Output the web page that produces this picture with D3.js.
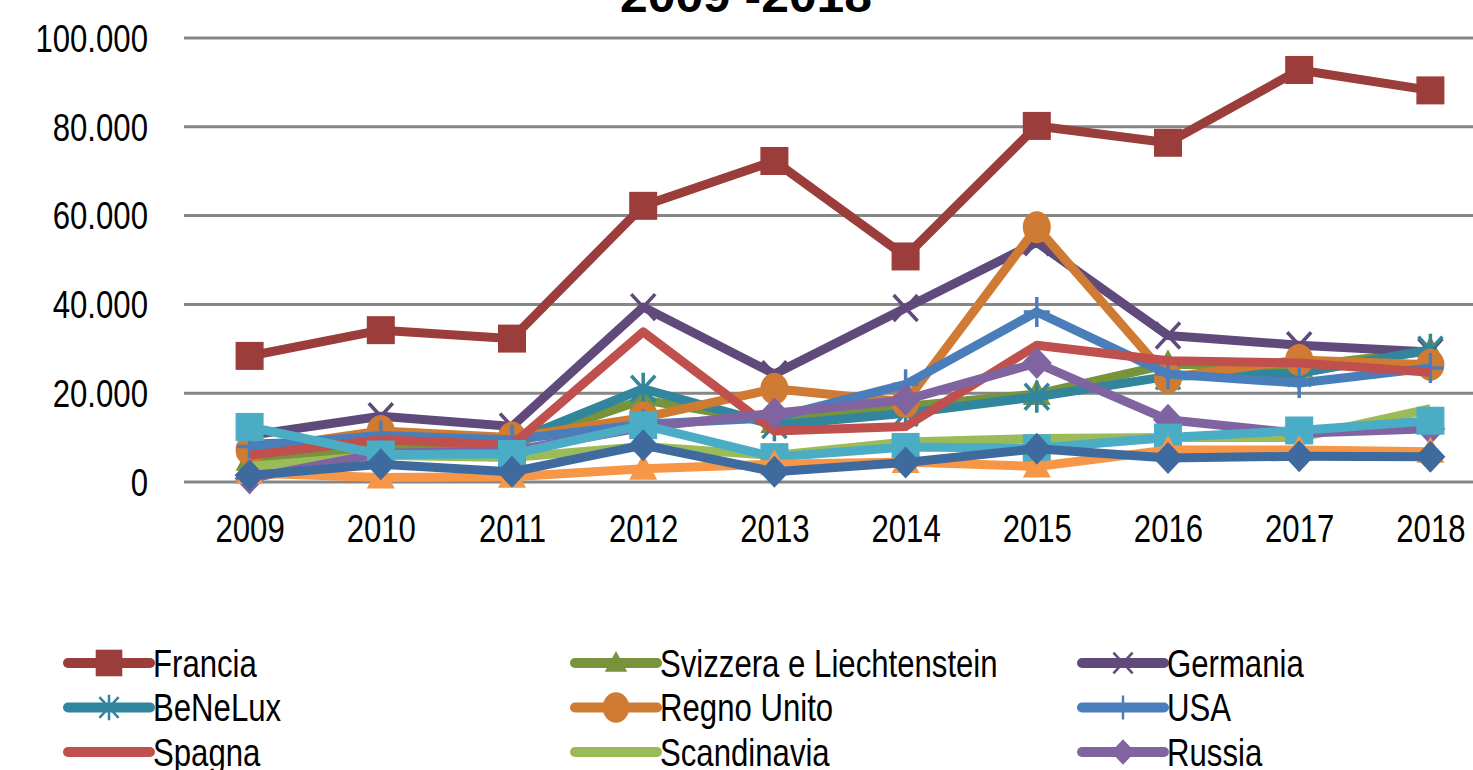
<!DOCTYPE html>
<meta charset="utf-8">
<style>
body { margin: 0; background: #fff; }
text { font-family: "Liberation Sans", Arial, sans-serif; fill: #000; }
.grid line { stroke: #868686; stroke-width: 3px; }
.series path.line { fill: none; stroke-width: 9px; stroke-linejoin: round; }
</style>
<body>
<div id="chart"></div>
<script src="https://cdn.jsdelivr.net/npm/d3@7/dist/d3.min.js"></script>
<script>

var WIDTH = 1473;
var HEIGHT = 770;
var TEXT_SQUEEZE = 0.82;

// values in number of tourists
var years = [2009, 2010, 2011, 2012, 2013, 2014, 2015, 2016, 2017, 2018];
var yTicks = [0, 20000, 40000, 60000, 80000, 100000];

var francia     = [28400, 34200, 32300, 62200, 72300, 50800, 80200, 76400, 92800, 88200];
var svizzera    = [5000, 8000, 8500, 18500, 13500, 17000, 19800, 26500, 26000, 29500];
var germania    = [10500, 14800, 12500, 39400, 24300, 39200, 54000, 33000, 30800, 29300];
var benelux     = [8500, 9500, 9000, 21000, 12800, 15500, 19200, 23800, 24500, 29800];
var regnoUnito  = [7200, 11500, 10000, 14500, 21000, 18000, 57400, 23500, 27500, 26400];
var usa         = [8000, 10500, 9500, 13000, 14500, 22000, 38300, 24300, 22300, 25700];
var spagna      = [6000, 9500, 8300, 33800, 11500, 12500, 30800, 27300, 26800, 24700];
var scandinavia = [3500, 6000, 5500, 8000, 6000, 9000, 9800, 10000, 10000, 16500];
var russia      = [800, 6500, 7000, 12300, 15500, 18500, 26800, 14000, 11000, 12000];
var austria     = [12400, 6200, 6300, 12800, 5600, 7900, 7600, 10000, 11600, 13800];
var giappone    = [2000, 1000, 1200, 3000, 4000, 4500, 3500, 7200, 7200, 6800];
var altri       = [1500, 4000, 2300, 8300, 2300, 4400, 7500, 5400, 5800, 5700];

var seriesNames = ['Francia', 'Svizzera e Liechtenstein', 'Germania',
                   'BeNeLux', 'Regno Unito', 'USA',
                   'Spagna', 'Scandinavia', 'Russia',
                   'Austria', 'Giappone', 'Altri paesi'];
var seriesValues = [francia, svizzera, germania, benelux, regnoUnito, usa,
                    spagna, scandinavia, russia, austria, giappone, altri];
var seriesColors = ['#9B3D3A', '#77933C', '#604A7B', '#31859C', '#D07B33', '#4A7EBB',
                    '#C0504D', '#9BBB59', '#8064A2', '#4BACC6', '#F79646', '#3E6A9E'];
var seriesMarkers = ['square', 'triangle', 'x', 'star', 'circle', 'plus',
                     'none', 'none', 'diamond', 'square', 'triangle', 'diamond'];

var itLocale = d3.formatLocale({decimal: ',', thousands: '.', grouping: [3], currency: ['€', '']});
var fmt = itLocale.format(',d');

var svg = d3.select('#chart').append('svg')
    .attr('width', WIDTH)
    .attr('height', HEIGHT);

var x = d3.scalePoint()
    .domain(years)
    .range([184, 1496])
    .padding(0.5);

var y = d3.scaleLinear()
    .domain([0, 100000])
    .range([482, 38]);

// title, only its last line fits in the frame
svg.append('text')
    .attr('x', 620)
    .attr('y', 12)
    .attr('textLength', 252)
    .attr('lengthAdjust', 'spacingAndGlyphs')
    .style('font-size', '46px')
    .style('font-weight', 'bold')
    .text('2009 -2018');

// gridlines
svg.append('g')
    .attr('class', 'grid')
    .selectAll('line')
    .data(yTicks)
    .enter().append('line')
    .attr('x1', 184)
    .attr('x2', 1496)
    .attr('y1', function(d) { return y(d); })
    .attr('y2', function(d) { return y(d); });

// y axis labels
var yAxis = svg.append('g')
    .attr('transform', 'translate(148,0)')
    .call(d3.axisLeft(y).tickValues(yTicks).tickFormat(fmt).tickSize(0).tickPadding(0));
yAxis.select('.domain').remove();
yAxis.selectAll('text')
    .attr('x', null)
    .attr('dy', '0.35em')
    .attr('transform', 'scale(' + TEXT_SQUEEZE + ',1)')
    .style('font-size', '38px')
    .style('font-family', '"Liberation Sans", Arial, sans-serif');

// x axis labels
var xAxis = svg.append('g')
    .attr('transform', 'translate(0,542)')
    .call(d3.axisBottom(x).tickSize(0).tickPadding(0));
xAxis.select('.domain').remove();
xAxis.selectAll('.tick text')
    .attr('y', 0)
    .attr('dy', 0)
    .attr('transform', 'scale(' + TEXT_SQUEEZE + ',1)')
    .style('font-size', '38px')
    .style('font-family', '"Liberation Sans", Arial, sans-serif');

// draws one marker centred at 0,0; k scales it, sw is the stroke width of the line markers
function drawMarker(g, kind, color, k, sw) {
  if (kind == 'square') {
    g.append('rect')
      .attr('x', -14 * k).attr('y', -14 * k)
      .attr('width', 28 * k).attr('height', 28 * k)
      .attr('fill', color);
  } else if (kind == 'triangle') {
    g.append('path')
      .attr('d', 'M 0,' + (-15 * k) + ' L ' + (14 * k) + ',' + (11 * k) + ' L ' + (-14 * k) + ',' + (11 * k) + ' Z')
      .attr('fill', color);
  } else if (kind == 'diamond') {
    g.append('path')
      .attr('d', 'M 0,' + (-16 * k) + ' L ' + (15 * k) + ',0 L 0,' + (16 * k) + ' L ' + (-15 * k) + ',0 Z')
      .attr('fill', color);
  } else if (kind == 'circle') {
    g.append('ellipse')
      .attr('rx', 14 * k).attr('ry', 16 * k)
      .attr('fill', color);
  } else if (kind == 'x') {
    g.append('path')
      .attr('d', 'M -12,-13 L 12,13 M 12,-13 L -12,13')
      .attr('transform', 'scale(' + k + ')')
      .attr('stroke', color)
      .attr('stroke-width', sw / k)
      .attr('fill', 'none');
  } else if (kind == 'star') {
    g.append('path')
      .attr('d', 'M -12,-13 L 12,13 M 12,-13 L -12,13 M 0,-16 L 0,16')
      .attr('transform', 'scale(' + k + ')')
      .attr('stroke', color)
      .attr('stroke-width', sw / k)
      .attr('fill', 'none');
  } else if (kind == 'plus') {
    g.append('path')
      .attr('d', 'M -13,0 L 13,0 M 0,-15 L 0,15')
      .attr('transform', 'scale(' + k + ')')
      .attr('stroke', color)
      .attr('stroke-width', sw / k)
      .attr('fill', 'none');
  }
}

var line = d3.line()
    .x(function(d, i) { return x(years[i]); })
    .y(function(d) { return y(d); });

var i;
for (i = 0; i < seriesValues.length; ++i) {
  var color = seriesColors[i];
  var kind = seriesMarkers[i];
  var g = svg.append('g').attr('class', 'series');
  g.append('path')
    .attr('class', 'line')
    .attr('d', line(seriesValues[i]))
    .attr('stroke', color);
  g.selectAll('g.marker')
    .data(seriesValues[i])
    .enter().append('g')
    .attr('class', 'marker')
    .attr('transform', function(d, j) { return 'translate(' + x(years[j]) + ',' + y(d) + ')'; })
    .each(function() { drawMarker(d3.select(this), kind, color, 1, 3.5); });
}

// legend, 3 columns, row-major
var legendCols = [68, 575, 1082];
var legendRowY = 663;
var legendRowStep = 44.5;
var legend = svg.append('g');
for (i = 0; i < seriesNames.length; ++i) {
  var lx = legendCols[i % 3];
  var ly = legendRowY + Math.floor(i / 3) * legendRowStep;
  var lg = legend.append('g');
  lg.append('line')
    .attr('x1', lx).attr('x2', lx + 82)
    .attr('y1', ly).attr('y2', ly)
    .attr('stroke', seriesColors[i])
    .attr('stroke-width', 10)
    .attr('stroke-linecap', 'round');
  var mg = lg.append('g').attr('transform', 'translate(' + (lx + 41) + ',' + ly + ')');
  var km = (seriesMarkers[i] == 'square' || seriesMarkers[i] == 'circle') ? 0.95 : 0.8;
  drawMarker(mg, seriesMarkers[i], seriesColors[i], km, 2.5);
  lg.append('text')
    .attr('transform', 'translate(' + (lx + 85) + ',' + (ly + 13.5) + ') scale(' + TEXT_SQUEEZE + ',1)')
    .style('font-size', '38px')
    .text(seriesNames[i]);
}

</script>
</body>
